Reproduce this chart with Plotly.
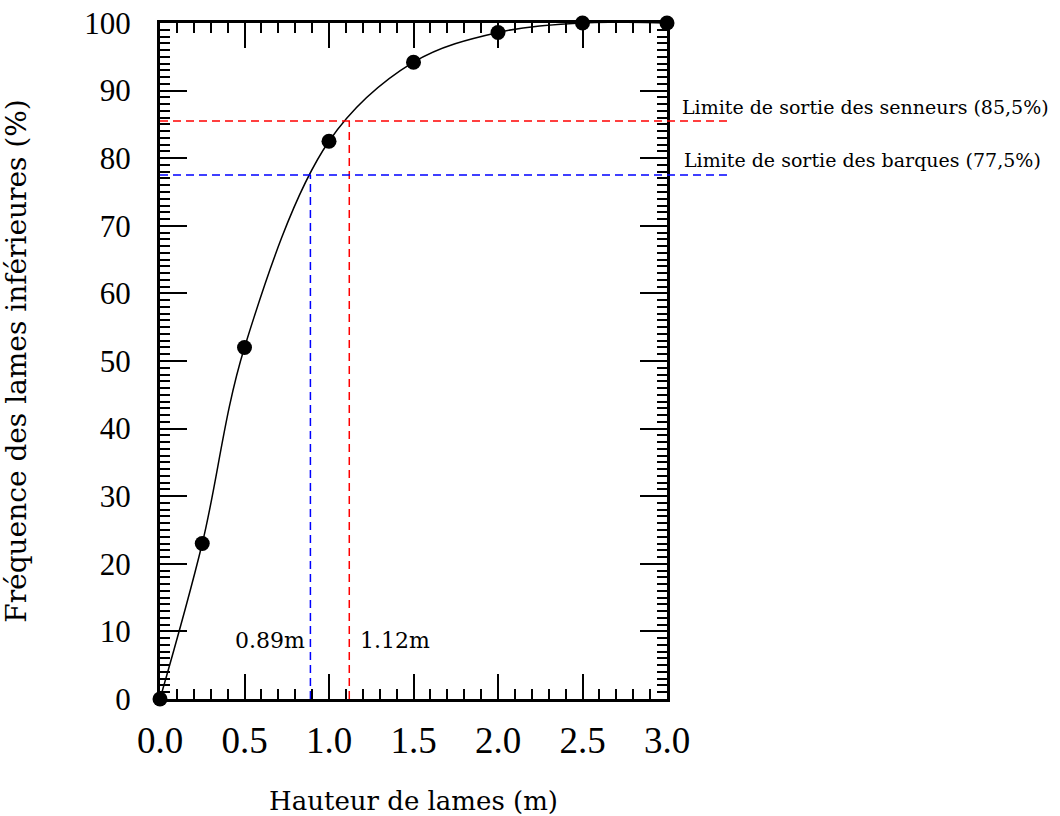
import plotly.graph_objects as go

# Data
hauteur = [0.0, 0.25, 0.5, 1.0, 1.5, 2.0, 2.5, 3.0]
frequence = [0.0, 23.0, 52.0, 82.5, 94.2, 98.6, 100.0, 100.0]

seuil_senneurs = 85.5
seuil_barques = 77.5
h_senneurs = 1.12
h_barques = 0.89
ligne_fin = 3.355

x_ticks = [0.0, 0.5, 1.0, 1.5, 2.0, 2.5, 3.0]
x_ticklabels = ["0.0", "0.5", "1.0", "1.5", "2.0", "2.5", "3.0"]
y_ticks = [0, 10, 20, 30, 40, 50, 60, 70, 80, 90, 100]

RED = "#ff0000"
BLUE = "#0000ff"
SERIF = "DejaVu Serif"
TICKFONT = "Liberation Serif"

fig = go.Figure()

# vertical dashed lines
fig.add_trace(go.Scatter(x=[h_barques, h_barques], y=[0, seuil_barques], mode="lines",
                         line=dict(color=BLUE, width=1.5, dash="8px,5px"), showlegend=False, hoverinfo="skip"))
fig.add_trace(go.Scatter(x=[h_senneurs, h_senneurs], y=[0, seuil_senneurs], mode="lines",
                         line=dict(color=RED, width=1.5, dash="8px,5px"), showlegend=False, hoverinfo="skip"))

# horizontal dashed lines extending past the plot
for yv, col in [(seuil_senneurs, RED), (seuil_barques, BLUE)]:
    fig.add_shape(type="line", xref="paper", yref="y", x0=0, x1=ligne_fin / 3.0, y0=yv, y1=yv,
                  line=dict(color=col, width=1.5, dash="8px,5px"), layer="above")

# curve
fig.add_trace(go.Scatter(x=hauteur, y=frequence, mode="lines", line=dict(color="black", width=1.5, shape="spline", smoothing=1),
                         showlegend=False, hoverinfo="skip"))
# points
fig.add_trace(go.Scatter(x=hauteur, y=frequence, mode="markers", marker=dict(color="black", size=15),
                         cliponaxis=False, showlegend=False))

fig.add_annotation(x=1.0256, xref="paper", y=87.6, yref="y", text="Limite de sortie des senneurs (85,5%)",
                   showarrow=False, xanchor="left", yanchor="middle", font=dict(family=SERIF, size=19, color="black"))
fig.add_annotation(x=1.03, xref="paper", y=79.7, yref="y", text="Limite de sortie des barques (77,5%)",
                   showarrow=False, xanchor="left", yanchor="middle", font=dict(family=SERIF, size=19, color="black"))
fig.add_annotation(x=0.87, y=8.7, text="0.89m", showarrow=False, xanchor="right", yanchor="middle",
                   font=dict(family=SERIF, size=22, color="black"))
fig.add_annotation(x=1.17, y=8.7, text="1.12m", showarrow=False, xanchor="left", yanchor="middle",
                   font=dict(family=SERIF, size=22, color="black"))

axis_common = dict(showline=True, linewidth=3, linecolor="black", mirror="ticks", ticks="inside",
                   tickwidth=2, tickcolor="black", showgrid=False, zeroline=False, ticklabeloverflow="allow")

fig.update_xaxes(range=[0, 3], tickvals=x_ticks, ticktext=x_ticklabels, ticklen=25,
                 tickfont=dict(family=TICKFONT, size=37, color="black"),
                 minor=dict(dtick=0.1, ticks="inside", ticklen=10, tickwidth=2, tickcolor="black", showgrid=False),
                 title=dict(text="Hauteur de lames (m)", font=dict(family=SERIF, size=26, color="black"), standoff=33),
                 ticklabelstandoff=7, **axis_common)
fig.update_yaxes(range=[0, 100], tickvals=y_ticks, ticklen=27,
                 tickfont=dict(family=TICKFONT, size=31, color="black"),
                 minor=dict(dtick=1, ticks="inside", ticklen=10, tickwidth=2, tickcolor="black", showgrid=False),
                 title=dict(text="Fréquence des lames inférieures (%)", font=dict(family=SERIF, size=28, color="black"), standoff=53),
                 ticklabelstandoff=20, **axis_common)

fig.update_layout(width=1060, height=816, margin=dict(l=160, r=393, t=23, b=117, autoexpand=False),
                  plot_bgcolor="white", paper_bgcolor="white")

fig.write_html("out.html", config={"displayModeBar": False},
               post_script="document.body.style.margin='0';")
